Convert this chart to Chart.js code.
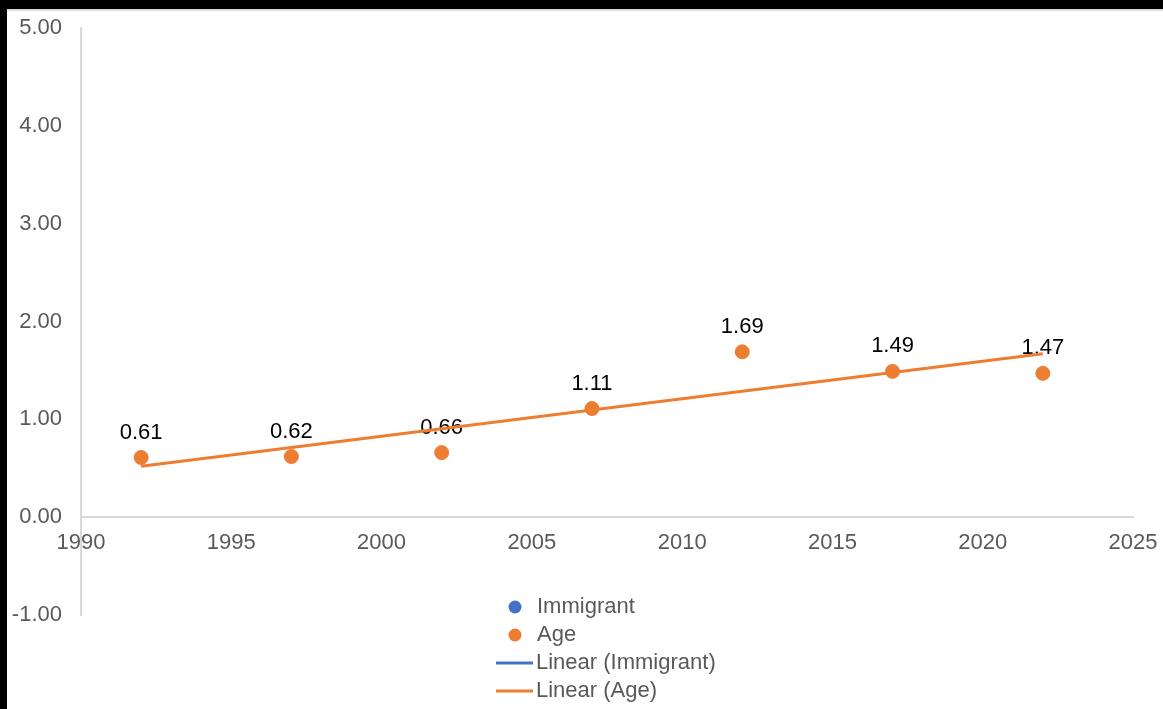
<!DOCTYPE html>
<html><head><meta charset="utf-8">
<script src="https://cdn.jsdelivr.net/npm/chart.js@4/dist/chart.umd.min.js"></script>
<style>html,body{margin:0;padding:0;background:#fff;}#wrap{width:1163px;height:709px;position:relative;}</style>
</head><body><div id="wrap"><canvas id="c" width="1163" height="709"></canvas></div>
<script>
const years = [1992, 1997, 2002, 2007, 2012, 2017, 2022];
const ageValues = [0.61, 0.62, 0.66, 1.11, 1.69, 1.49, 1.47];
const immigrantValues = [];
const trendYears = [1992, 2022];
const trendAge = [0.52, 1.67];
const yTicks = [-1, 0, 1, 2, 3, 4, 5];
const xTicks = [1990, 1995, 2000, 2005, 2010, 2015, 2020, 2025];
const legendLabels = ['Immigrant', 'Age', 'Linear (Immigrant)', 'Linear (Age)'];

const ORANGE = '#ED7D31', BLUE = '#4472C4', GREY = '#595959';
const FONT = "'Liberation Sans', Arial, sans-serif";

const framePlugin = {
  id: 'frame',
  beforeDraw(chart) {
    const c = chart.ctx;
    c.save();
    c.fillStyle = '#fff'; c.fillRect(0, 0, chart.width, chart.height);
    c.fillStyle = '#000'; c.fillRect(0, 0, chart.width, 9); c.fillRect(0, 0, 7, chart.height);
    c.fillStyle = '#dcdcdc'; c.fillRect(7, 9, chart.width - 7, 2);
    c.restore();
  }
};

const labelPlugin = {
  id: 'labels',
  beforeDatasetsDraw(chart) {
    const c = chart.ctx;
    const meta = chart.getDatasetMeta(1);
    c.save();
    c.font = '22px ' + FONT; c.fillStyle = '#000'; c.textAlign = 'center'; c.textBaseline = 'middle';
    meta.data.forEach((p, i) => {
      c.fillText(ageValues[i].toFixed(2), p.x, p.y - 25);
    });
    c.restore();
  }
};

const legendPlugin = {
  id: 'customLegend',
  afterDraw(chart) {
    const c = chart.ctx;
    c.save();
    c.font = '22px ' + FONT; c.textBaseline = 'middle'; c.textAlign = 'left';
    const ys = [607, 635, 663, 691];
    const cols = [BLUE, ORANGE, BLUE, ORANGE];
    legendLabels.forEach((t, i) => {
      const y = ys[i];
      if (i < 2) {
        c.fillStyle = cols[i]; c.beginPath(); c.arc(515, y, 6.5, 0, Math.PI * 2); c.fill();
        c.fillStyle = GREY; c.fillText(t, 537, y);
      } else {
        c.strokeStyle = cols[i]; c.lineWidth = 3; c.beginPath(); c.moveTo(496, y); c.lineTo(533, y); c.stroke();
        c.fillStyle = GREY; c.fillText(t, 536, y);
      }
    });
    c.restore();
  }
};

new Chart(document.getElementById('c'), {
  type: 'scatter',
  data: {
    datasets: [
      { label: legendLabels[0], data: immigrantValues.map((v, i) => ({ x: years[i], y: v })), backgroundColor: BLUE, borderColor: BLUE, pointRadius: 7, order: 2 },
      { label: legendLabels[1], data: ageValues.map((v, i) => ({ x: years[i], y: v })), backgroundColor: ORANGE, borderColor: ORANGE, pointRadius: 7, pointHoverRadius: 7, order: 2 },
      { type: 'line', label: legendLabels[3], data: trendAge.map((v, i) => ({ x: trendYears[i], y: v })), borderColor: ORANGE, borderWidth: 3, pointRadius: 0, fill: false, order: 1 }
    ]
  },
  options: {
    responsive: false, animation: false, devicePixelRatio: 1,
    layout: { padding: { top: 28, right: 30, bottom: 94, left: 0 } },
    plugins: { legend: { display: false }, tooltip: { enabled: false } },
    scales: {
      x: {
        type: 'linear', position: { y: 0 }, min: 1990, max: 2025,
        afterBuildTicks(s) { s.ticks = xTicks.map(v => ({ value: v })); },
        afterFit(s) { s.paddingLeft = 0; s.paddingRight = 0; },
        grid: { display: false, drawTicks: false },
        border: { display: true, color: '#d9d9d9', width: 2 },
        ticks: { color: GREY, font: { family: FONT, size: 22 }, padding: 13, maxRotation: 0, callback: v => String(v) }
      },
      y: {
        min: -1, max: 5,
        afterBuildTicks(s) { s.ticks = yTicks.map(v => ({ value: v })); },
        afterFit(s) { s.width = 81; s.paddingTop = 0; s.paddingBottom = 0; },
        grid: { display: false, drawTicks: false },
        border: { display: true, color: '#d9d9d9', width: 2 },
        ticks: { color: GREY, font: { family: FONT, size: 22 }, padding: 19, callback: v => Number(v).toFixed(2) }
      }
    }
  },
  plugins: [framePlugin, labelPlugin, legendPlugin]
});
</script></body></html>
